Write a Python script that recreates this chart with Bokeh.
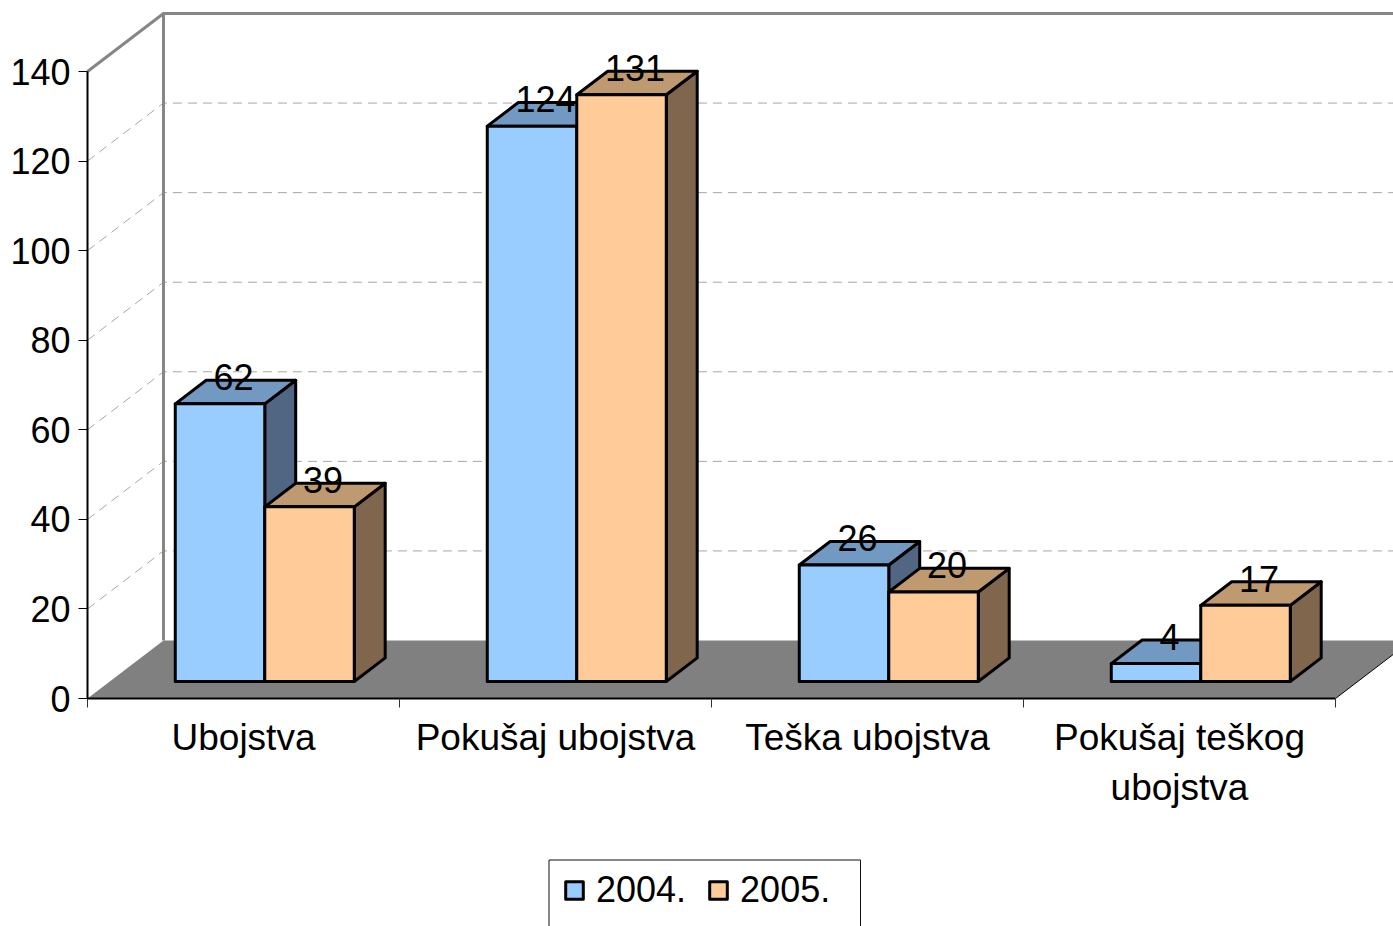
from bokeh.plotting import figure
from bokeh.embed import file_html
from bokeh.resources import INLINE
from bokeh.core.properties import value
from bokeh.models import (BoxAnnotation, FixedTicker, Legend, LegendItem, Range1d)

categories = ["Ubojstva", "Pokušaj ubojstva", "Teška ubojstva", "Pokušaj teškog\nubojstva"]
series_names = ["2004.", "2005."]
values_2004 = [62, 124, 26, 4]
values_2005 = [39, 131, 20, 17]
y_ticks = [0, 20, 40, 60, 80, 100, 120, 140]

FONT = "Liberation Sans"
FS = "36px"
# pixel scale of the plot
W, H = 1393, 926
X0_PX, Y0_PX = 87.0, 698.0
GROUP_PX = 312.0
UNIT_PX = 627.0 / 140.0
# depth of the 3D box, in axis units
DX = 76.0 / GROUP_PX
DY = 58.0 / UNIT_PX
Z0, Z1 = 0.293, 0.70
GAP = 65.5 / GROUP_PX
BAR = 89.5 / GROUP_PX
X_END = (W - X0_PX) / GROUP_PX


def proj(x, v, z):
    return x + z * DX, v + z * DY


def poly(points):
    pts = [proj(*q) for q in points]
    return [a for a, _ in pts], [b for _, b in pts]


p = figure(width=W, height=H, frame_width=W, frame_height=H,
           output_backend="svg", toolbar_location=None,
           x_range=Range1d(-X0_PX / GROUP_PX, X_END),
           y_range=Range1d((Y0_PX - H) / UNIT_PX, Y0_PX / UNIT_PX),
           min_border=0, outline_line_color=None, background_fill_color="white")
p.grid.visible = False

n = len(categories)
top_val = y_ticks[-1]

# floor
fx, fy = poly([(0, 0, 0), (n, 0, 0), (n, 0, 1), (0, 0, 1)])
p.patch(fx, fy, fill_color="#808080", line_color=None)
ex, ey = poly([(n, 0, 0), (n, 0, 1)])
p.line(ex, ey, line_color="#000000", line_width=1)

# gridlines: side wall and back wall
gxs, gys = [], []
for t in y_ticks[1:-1]:
    a, b = poly([(0, t, 0), (0, t, 1), (X_END, t, 1)])
    gxs.append(a)
    gys.append(b)
p.multi_line(gxs, gys, line_color="#a6a6a6", line_width=1, line_dash="9 6")

# walls
a, b = poly([(0, top_val, 0), (0, top_val, 1), (X_END, top_val, 1)])
p.line(a, b, line_color="#868686", line_width=3)
a, b = poly([(0, 0, 1), (0, top_val, 1)])
p.line(a, b, line_color="#868686", line_width=3)

# bars
styles = [("#99CCFF", "#7299C2", "#506683"), ("#FFCC99", "#BF9970", "#80664D")]
fronts = []
lab_x, lab_y, lab_t = [], [], []
for s, (vals, (front, top, side)) in enumerate(zip([values_2004, values_2005], styles)):
    fxs, fys, txs, tys, sxs, sys_ = [], [], [], [], [], []
    for i, v in enumerate(vals):
        x0 = i + GAP + s * BAR
        x1 = x0 + BAR
        c = poly([(x0, 0, Z0), (x1, 0, Z0), (x1, v, Z0), (x0, v, Z0)])
        t = poly([(x0, v, Z0), (x1, v, Z0), (x1, v, Z1), (x0, v, Z1)])
        d = poly([(x1, 0, Z0), (x1, 0, Z1), (x1, v, Z1), (x1, v, Z0)])
        fxs.append(c[0]); fys.append(c[1])
        txs.append(t[0]); tys.append(t[1])
        sxs.append(d[0]); sys_.append(d[1])
        mx, my = proj((x0 + x1) / 2, v, (Z0 + Z1) / 2)
        lab_x.append(mx); lab_y.append(my); lab_t.append(str(v))
    kw = dict(line_color="#000000", line_width=3, line_join="round")
    p.patches(sxs, sys_, fill_color=side, **kw)
    p.patches(txs, tys, fill_color=top, **kw)
    fronts.append(p.patches(fxs, fys, fill_color=front, **kw))

p.text(lab_x, lab_y, text=lab_t, text_font=value(FONT), text_font_size=FS,
       text_color="#000000", text_align="center", text_baseline="middle",
       x_offset=-2, y_offset=-15)

# axes
xa = p.xaxis[0]
xa.fixed_location = 0
xa.ticker = FixedTicker(ticks=[i + 0.5 for i in range(n)], minor_ticks=list(range(n + 1)))
xa.major_label_overrides = {i + 0.5: c for i, c in enumerate(categories)}
xa.major_tick_line_color = None
xa.minor_tick_in = 0
xa.minor_tick_out = 9
xa.minor_tick_line_color = "#333333"
xa.axis_line_color = "#000000"
xa.axis_line_width = 2
xa.bounds = (0, n)
xa.major_label_text_font = FONT
xa.major_label_text_font_size = "37px"
xa.major_label_text_color = "#000000"
xa.major_label_standoff = 9
xa.major_label_text_line_height = 1.22

ya = p.yaxis[0]
ya.fixed_location = 0
ya.ticker = FixedTicker(ticks=y_ticks)
ya.minor_tick_line_color = None
ya.major_tick_in = 0
ya.major_tick_out = 9
ya.major_tick_line_color = "#000000"
ya.axis_line_color = "#000000"
ya.axis_line_width = 2
ya.bounds = (0, top_val)
ya.major_label_text_font = FONT
ya.major_label_text_font_size = FS
ya.major_label_text_color = "#000000"
ya.major_label_standoff = 8

# legend
box = BoxAnnotation(left=(548.5 - X0_PX) / GROUP_PX, right=(860 - X0_PX) / GROUP_PX,
                    top=(Y0_PX - 859.5) / UNIT_PX, bottom=(Y0_PX - 960) / UNIT_PX,
                    fill_color=None, line_color="#111111", line_alpha=1.0, line_width=1)
p.add_layout(box)
leg = Legend(items=[LegendItem(label=value(nm), renderers=[r]) for nm, r in zip(series_names, fronts)],
             orientation="horizontal", location=(563, 15),
             glyph_width=22, glyph_height=22, label_standoff=11, spacing=21,
             padding=0, margin=0, border_line_color=None, background_fill_color=None,
             label_text_font=FONT, label_text_font_size=FS, label_text_color="#000000",
             label_height=30)
p.add_layout(leg, "center")

open("out.html", "w").write(file_html(p, INLINE))
